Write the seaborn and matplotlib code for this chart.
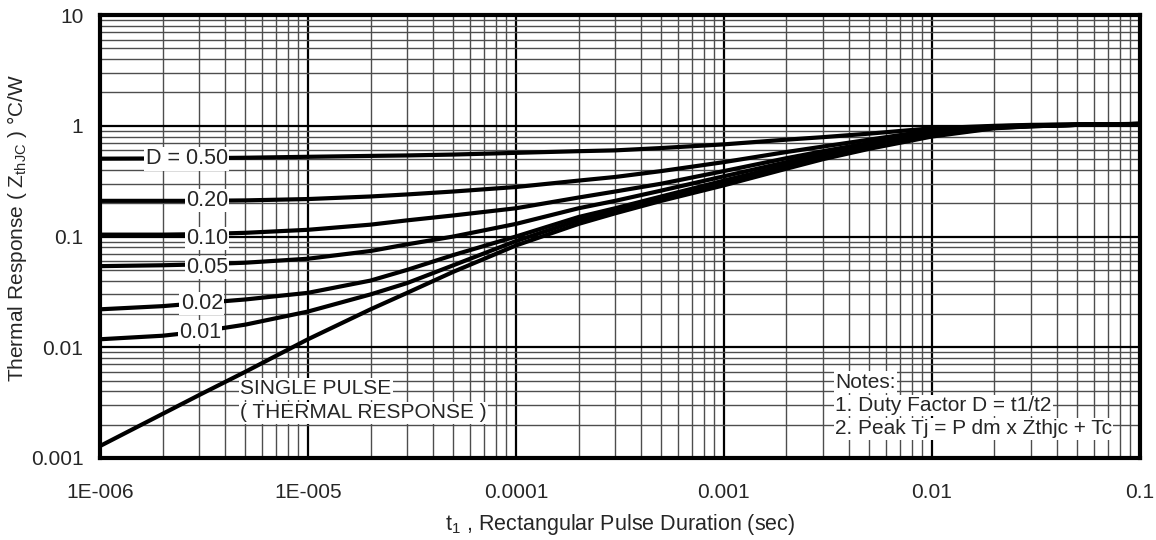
import numpy as np
import pandas as pd
import matplotlib
matplotlib.use("Agg")
import matplotlib.pyplot as plt
import seaborn as sns

# pulse durations (sec) where the curves were read
t1 = [1e-6, 2e-6, 3e-6, 5e-6, 1e-5, 2e-5, 3e-5, 5e-5, 1e-4, 2e-4, 3e-4, 5e-4,
      1e-3, 2e-3, 3e-3, 5e-3, 1e-2, 2e-2, 3e-2, 5e-2, 1e-1]

# thermal response Zth(jc) for each duty factor
z_d050 = [0.505, 0.507, 0.51, 0.515, 0.525, 0.535, 0.54, 0.55, 0.57, 0.59, 0.60, 0.63,
          0.68, 0.75, 0.79, 0.85, 0.95, 1.0, 1.02, 1.03, 1.04]
z_d020 = [0.21, 0.21, 0.21, 0.212, 0.218, 0.23, 0.24, 0.255, 0.28, 0.32, 0.345, 0.39,
          0.47, 0.58, 0.65, 0.75, 0.91, 0.99, 1.01, 1.03, 1.04]
z_d010 = [0.104, 0.104, 0.105, 0.108, 0.115, 0.128, 0.14, 0.155, 0.18, 0.225, 0.255, 0.30,
          0.39, 0.51, 0.59, 0.70, 0.88, 0.98, 1.0, 1.02, 1.04]
z_d005 = [0.054, 0.055, 0.056, 0.058, 0.063, 0.074, 0.085, 0.10, 0.13, 0.18, 0.21, 0.26,
          0.35, 0.47, 0.56, 0.67, 0.86, 0.97, 1.0, 1.02, 1.04]
z_d002 = [0.022, 0.0235, 0.025, 0.027, 0.031, 0.040, 0.050, 0.068, 0.10, 0.15, 0.18, 0.23,
          0.32, 0.44, 0.53, 0.65, 0.84, 0.97, 0.995, 1.02, 1.04]
z_d001 = [0.0118, 0.0127, 0.0138, 0.016, 0.021, 0.030, 0.038, 0.055, 0.091, 0.14, 0.17, 0.22,
          0.30, 0.42, 0.51, 0.63, 0.82, 0.96, 0.99, 1.02, 1.04]
z_single = [0.00128, 0.0025, 0.0037, 0.006, 0.0118, 0.022, 0.031, 0.048, 0.083, 0.13, 0.162, 0.21,
            0.29, 0.41, 0.50, 0.62, 0.80, 0.95, 0.99, 1.02, 1.04]

duty = ['0.50', '0.20', '0.10', '0.05', '0.02', '0.01', 'single']
curves = [z_d050, z_d020, z_d010, z_d005, z_d002, z_d001, z_single]

x_ticks = [1e-6, 1e-5, 1e-4, 1e-3, 1e-2, 1e-1]
x_ticklabels = ['1E-006', '1E-005', '0.0001', '0.001', '0.01', '0.1']
y_ticks = [0.001, 0.01, 0.1, 1, 10]
y_ticklabels = ['0.001', '0.01', '0.1', '1', '10']

# curve labels: text, x, y
label_text = ['D = 0.50', '0.20', '0.10', '0.05', '0.02', '0.01']
label_x = [2.61e-6, 3.27e-6, 3.27e-6, 3.27e-6, 3.09e-6, 3.03e-6]
label_y = [0.504, 0.211, 0.096, 0.0526, 0.0249, 0.0137]

frames = []
for d, z in zip(duty, curves):
    frames.append(pd.DataFrame({'t': t1, 'z': z, 'D': d}))
df = pd.concat(frames, ignore_index=True)

sns.set_style('white')
plt.rcParams['font.family'] = ['Liberation Sans', 'DejaVu Sans']
plt.rcParams['mathtext.fontset'] = 'custom'
plt.rcParams['mathtext.rm'] = 'Liberation Sans'

fig, ax = plt.subplots(figsize=(11.56, 5.4), dpi=100)
fig.subplots_adjust(left=0.0865, right=0.986, top=0.972, bottom=0.152)

ax.set_xscale('log')
ax.set_yscale('log')
ax.set_xlim(1e-6, 1e-1)
ax.set_ylim(1e-3, 10)

# grid first so curves sit on top
ax.grid(True, which='minor', color='0.3', linewidth=1.0)
ax.grid(True, which='major', color='black', linewidth=1.6)
ax.set_axisbelow(True)

sns.lineplot(data=df, x='t', y='z', hue='D', palette=['black'] * len(duty),
             linewidth=3, legend=False, ax=ax, sort=True)

ax.set_xticks(x_ticks)
ax.set_xticklabels(x_ticklabels)
ax.set_yticks(y_ticks)
ax.set_yticklabels(y_ticklabels)
ax.xaxis.set_minor_locator(matplotlib.ticker.LogLocator(base=10, subs=np.arange(2, 10)))
ax.yaxis.set_minor_locator(matplotlib.ticker.LogLocator(base=10, subs=np.arange(2, 10)))
ax.xaxis.set_minor_formatter(matplotlib.ticker.NullFormatter())
ax.yaxis.set_minor_formatter(matplotlib.ticker.NullFormatter())
ax.tick_params(axis='both', which='both', length=0)
ax.tick_params(axis='x', pad=18, labelsize=15)
ax.tick_params(axis='y', pad=12, labelsize=15)

for s in ax.spines.values():
    s.set_linewidth(3)
    s.set_color('black')

box = dict(facecolor='white', edgecolor='none', pad=1)
for txt, lx, ly in zip(label_text, label_x, label_y):
    ax.text(lx, ly, txt, ha='center', va='center', fontsize=15.5, bbox=box)

ax.text(240 / 1156, 1 - 389 / 540, 'SINGLE PULSE', transform=fig.transFigure,
        ha='left', va='center', fontsize=15, bbox=box)
ax.text(240 / 1156, 1 - 413 / 540, '( THERMAL RESPONSE )', transform=fig.transFigure,
        ha='left', va='center', fontsize=15, bbox=box)

notes = ['Notes:', '1. Duty Factor D = t1/t2', '2. Peak Tj = P dm x Zthjc + Tc']
for i, n in enumerate(notes):
    ax.text(835 / 1156, 1 - (382 + 23.5 * i) / 540, n, transform=fig.transFigure,
            ha='left', va='center', fontsize=15, bbox=box)

ax.set_xlabel(r't$_{\mathregular{1}}$ , Rectangular Pulse Duration (sec)', fontsize=15.5, labelpad=7)
ax.set_ylabel(r'Thermal Response ( Z$_{\mathregular{thJC}}$ ) °C/W', fontsize=15)
ax.yaxis.set_label_coords(-0.068, 0.52)

fig.savefig('out.png', dpi=100)
